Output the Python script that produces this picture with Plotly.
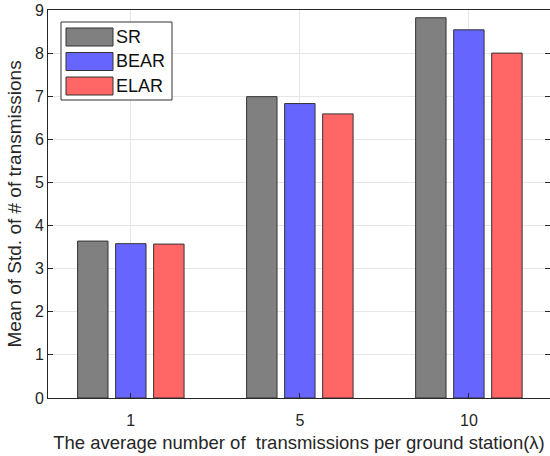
import plotly.graph_objects as go

categories = ["1", "5", "10"]
series_names = ["SR", "BEAR", "ELAR"]
sr_values = [3.64, 6.99, 8.82]
bear_values = [3.58, 6.83, 8.54]
elar_values = [3.57, 6.59, 8.00]
colors = ["#808080", "#6666ff", "#ff6666"]
y_ticks = list(range(0, 10))

x_pos = list(range(len(categories)))
fig = go.Figure()
for name, vals, col in zip(series_names, [sr_values, bear_values, elar_values], colors):
    fig.add_trace(go.Bar(x=x_pos, y=vals, name=name, marker=dict(color=col, line=dict(color="#333333", width=1)),
                         showlegend=False))

font = "Liberation Sans, Arial, Helvetica, sans-serif"
fig.update_layout(
    width=550, height=456,
    margin=dict(l=48, r=0, t=10, b=58),
    paper_bgcolor="white", plot_bgcolor="white",
    barmode="group", bargap=0.325, bargroupgap=0.2,
    font=dict(family=font, size=16, color="#262626"),
    xaxis=dict(range=[-0.49, 2.48], tickmode="array", tickvals=x_pos, ticktext=categories,
               showgrid=True, gridcolor="#e6e6e6", showline=True, linecolor="#262626", mirror=True,
               ticks="inside", ticklen=5, tickcolor="#262626", zeroline=False, ticklabelstandoff=8,
               title=dict(text="The average number of  transmissions per ground station(λ)", standoff=7,
                          font=dict(family=font, size=18.5, color="#262626"))),
    yaxis=dict(range=[0, 9], tickvals=y_ticks, showgrid=True, gridcolor="#e6e6e6",
               showline=True, linecolor="#262626", mirror="ticks", ticks="inside", ticklen=5,
               tickcolor="#262626", zeroline=False,
               title=dict(text="Mean of Std. of # of transmissions", standoff=8)),
)

# legend box (manual, to match large swatches)
fig.add_shape(type="rect", xref="paper", yref="paper",
              x0=(61 - 48) / 502, x1=(172 - 48) / 502,
              y0=1 - (100 - 10) / 388, y1=1 - (22 - 10) / 388,
              line=dict(color="#333333", width=1), fillcolor="white")
for i, (name, col) in enumerate(zip(series_names, colors)):
    top = 28 + i * 24.5
    fig.add_shape(type="rect", xref="paper", yref="paper",
                  x0=(66 - 48) / 502, x1=(113 - 48) / 502,
                  y0=1 - (top + 18 - 10) / 388, y1=1 - (top - 10) / 388,
                  line=dict(color="#333333", width=1), fillcolor=col)
    fig.add_annotation(xref="paper", yref="paper", x=(114 - 48) / 502, y=1 - (top + 9 - 10) / 388,
                       text=name, showarrow=False, xanchor="left", yanchor="middle",
                       font=dict(size=18, color="#111111"))

fig.write_html("out.html")
